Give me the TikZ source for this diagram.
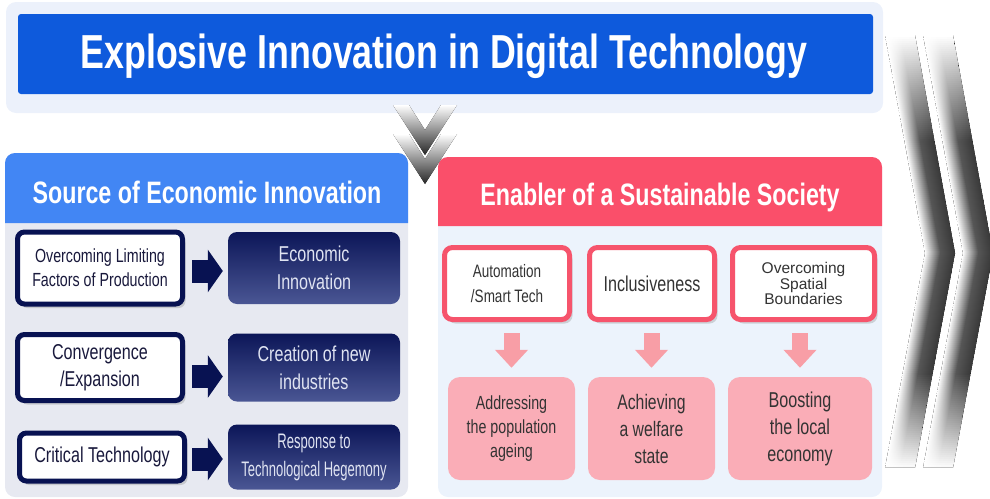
\documentclass[tikz,border=0pt]{standalone}
\usepackage{fontspec}
\setmainfont{Liberation Sans}
\newfontfamily\condfont[FakeStretch=0.75]{Liberation Sans}
\newfontfamily\narrowfont[FakeStretch=0.62]{Liberation Sans}
\usepackage{tikz}
\usetikzlibrary{arrows.meta,shadows}
\usepackage{xcolor}
\definecolor{topbg}{RGB}{236,241,251}
\definecolor{titleblue}{RGB}{14,90,220}
\definecolor{srchead}{RGB}{66,134,244}
\definecolor{srcbody}{RGB}{231,233,241}
\definecolor{navyline}{RGB}{8,18,82}
\definecolor{navytext}{RGB}{25,25,60}
\definecolor{navytop}{RGB}{12,22,88}
\definecolor{navybot}{RGB}{74,86,148}
\definecolor{lighttext}{RGB}{224,228,242}
\definecolor{enabhead}{RGB}{250,79,106}
\definecolor{enabbody}{RGB}{236,243,252}
\definecolor{redline}{RGB}{246,84,108}
\definecolor{pinkarrow}{RGB}{248,158,166}
\definecolor{pinkbox}{RGB}{250,173,183}
\definecolor{darktext}{RGB}{51,51,51}
\tikzstyle{headtitle} = [text=white, anchor=base, inner sep=0pt, font={\condfont\bfseries\fontsize{31}{31}\selectfont}]
\tikzstyle{factorbox} = [rectangle, rounded corners=7pt, draw=navyline, line width=5pt, fill=white, minimum width=165pt, text centered, align=center, inner sep=0pt, text=navytext, font={\condfont\fontsize{21.5}{27}\selectfont}, drop shadow={opacity=0.3, shadow xshift=3pt, shadow yshift=-4pt}]
\tikzstyle{resultbox} = [rectangle, rounded corners=9pt, top color=navytop, bottom color=navybot, minimum width=172pt, text centered, align=center, inner sep=0pt, text=lighttext, font={\condfont\fontsize{21.5}{28}\selectfont}]
\tikzstyle{valuebox} = [rectangle, rounded corners=8pt, draw=redline, line width=5pt, fill=white, minimum width=125pt, minimum height=72pt, text centered, align=center, inner sep=0pt, text=darktext, font={\condfont\fontsize{18}{25}\selectfont}, drop shadow={opacity=0.3, shadow xshift=3pt, shadow yshift=-4pt}]
\tikzstyle{goalbox} = [rectangle, rounded corners=12pt, fill=pinkbox, minimum width=127pt, minimum height=103pt, text centered, align=center, inner sep=0pt, text=darktext, font={\condfont\fontsize{21}{27}\selectfont}]
\tikzstyle{blockarrow} = [line width=23pt, color=navyline, -{Triangle[length=15pt 0 0, width=42pt 0 0]}]
\tikzstyle{downarrow} = [line width=16pt, color=pinkarrow, -{Triangle[length=18pt 0 0, width=32pt 0 0]}]
\tikzstyle{chevband} = [left color=white, right color=bandcol, middle color=bandcol!85!white]

\begin{document}
\begin{tikzpicture}[x=1pt, y=-1pt]
    \useasboundingbox (0,0) rectangle (990,498);

    % Top panel
    \fill[topbg, rounded corners=10pt] (6,2) rectangle (883,113);
    \fill[titleblue, rounded corners=3pt] (18,14) rectangle (873,94);
    \node[headtitle, font={\condfont\bfseries\fontsize{47.7}{48}\selectfont}] (maintitle) at (444,68) {Explosive Innovation in Digital Technology};

    % Left panel
    \fill[srcbody, rounded corners=10pt] (5,153) rectangle (408,497);
    \fill[srchead] (5,223) [rounded corners=10pt] -- (5,153) -- (408,153) [sharp corners] -- (408,223) -- cycle;
    \node[headtitle] (srctitle) at (207,203) {Source of Economic Innovation};

    % Right panel
    \fill[enabbody, rounded corners=10pt] (438,157) rectangle (882,497);
    \fill[enabhead] (438,226) [rounded corners=10pt] -- (438,157) -- (882,157) [sharp corners] -- (882,226) -- cycle;
    \node[headtitle] (enabtitle) at (660,205) {Enabler of a Sustainable Society};

    % Down chevrons
    \fill[top color=white, bottom color=black!85] (393,134) -- (409,134) -- (425,159) -- (441,134) -- (457,134) -- (425,184) -- cycle;
    \fill[top color=white, bottom color=black!85] (393,105) -- (409,105) -- (425,130) -- (441,105) -- (457,105) -- (425,155) -- cycle;

    % Right chevrons, thin bands
    \foreach \x in {885,923} {
        % upper arm
        \foreach \k in {0,...,108} {
            \pgfmathsetmacro{\ya}{35+2*\k}
            \pgfmathsetmacro{\yb}{\ya+2.6}
            \pgfmathsetmacro{\xa}{\x+40*(\ya-35)/218}
            \pgfmathsetmacro{\xb}{\x+40*(\yb-35)/218}
            \pgfmathsetmacro{\tone}{78*min(1,(\ya-35)/105)}
            \colorlet{bandcol}{black!\tone}
            \fill[chevband] (\xa,\ya) -- (\xa+30,\ya) -- (\xb+30,\yb) -- (\xb,\yb) -- cycle;
        }
        % lower arm
        \foreach \k in {0,...,106} {
            \pgfmathsetmacro{\yc}{253+2*\k}
            \pgfmathsetmacro{\yd}{\yc+2.6}
            \pgfmathsetmacro{\xc}{\x+40*(468-\yc)/215}
            \pgfmathsetmacro{\xd}{\x+40*(468-\yd)/215}
            \pgfmathsetmacro{\tone}{78*min(1,(468-\yc)/95)}
            \colorlet{bandcol}{black!\tone}
            \fill[chevband] (\xc,\yc) -- (\xc+30,\yc) -- (\xd+30,\yd) -- (\xd,\yd) -- cycle;
        }
    }

    % Sources
    \node[factorbox, minimum height=72pt, font={\condfont\fontsize{19}{24}\selectfont}] (limits) at (100,268) {Overcoming Limiting\\Factors of Production};
    \node[factorbox, minimum height=66pt] (conv) at (100,367.5) {Convergence\\/Expansion};
    \node[factorbox, minimum height=48pt] (crit) at (102,457) {Critical Technology};

    % Results
    \node[resultbox, minimum height=72pt] (econ) at (314,268) {Economic\\Innovation};
    \node[resultbox, minimum height=68pt] (newind) at (314,367.5) {Creation of new\\industries};
    \node[resultbox, minimum height=65pt, font={\narrowfont\fontsize{21}{28}\selectfont}] (hegem) at (314,457) {Response to\\Technological Hegemony};

    % Block arrows
    \draw[blockarrow, shorten <=7pt, shorten >=5pt] ([yshift=-3pt]limits.east) -- ([yshift=-3pt]econ.west);
    \draw[blockarrow, shorten <=7pt, shorten >=5pt] ([yshift=-9pt]conv.east) -- ([yshift=-9pt]newind.west);
    \draw[blockarrow, shorten <=5pt, shorten >=5pt] ([yshift=-2pt]crit.east) -- ([yshift=-2pt]hegem.west);

    % Values
    \node[valuebox] (auto) at (507,283.5) {Automation\\/Smart Tech};
    \node[valuebox, font={\condfont\fontsize{21.5}{27}\selectfont}] (incl) at (652,283.5) {Inclusiveness};
    \node[valuebox, minimum width=142pt, font={\fontsize{15.5}{15.5}\selectfont}] (spatial) at (803.5,283.5) {Overcoming\\Spatial\\Boundaries};

    % Goals
    \node[goalbox, font={\condfont\fontsize{19}{24}\selectfont}] (aging) at (511.5,428.5) {Addressing\\the population\\ageing};
    \node[goalbox] (welfare) at (651.5,428.5) {Achieving\\a welfare\\state};
    \node[goalbox, minimum width=144pt, font={\condfont\fontsize{21.5}{27}\selectfont}] (local) at (800,428.5) {Boosting\\the local\\economy};

    % Down arrows
    \draw[downarrow, shorten <=11pt, shorten >=9pt] (auto.south -| aging.north) -- (aging.north);
    \draw[downarrow, shorten <=11pt, shorten >=9pt] (incl.south -| welfare.north) -- (welfare.north);
    \draw[downarrow, shorten <=11pt, shorten >=9pt] (spatial.south -| local.north) -- (local.north);
\end{tikzpicture}
\end{document}
